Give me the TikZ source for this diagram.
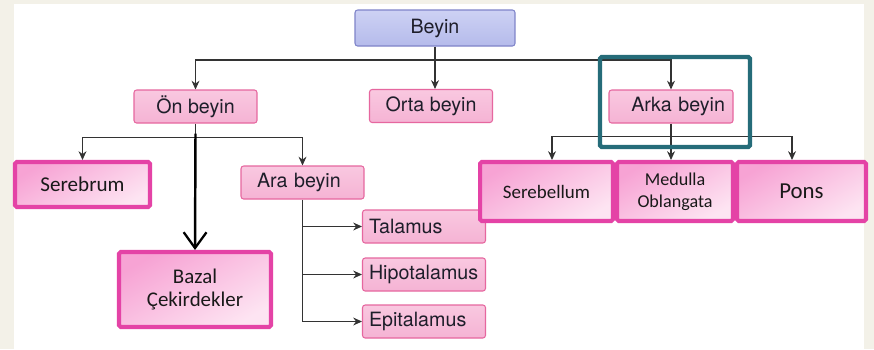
\documentclass[tikz,border=0pt]{standalone}
\usepackage{fontspec}
\usepackage{tikz}
\usetikzlibrary{arrows.meta}
\newfontfamily\heros{TeX Gyre Heros}
\newfontfamily\carl{Carlito}
\definecolor{cream}{HTML}{F3F1E8}
\definecolor{linegray}{HTML}{333333}
\definecolor{pinkline}{HTML}{E6679F}
\definecolor{pinktop}{HTML}{F9C8E0}
\definecolor{pinkbot}{HTML}{F5B3D4}
\definecolor{lavline}{HTML}{7F84C9}
\definecolor{lavtop}{HTML}{CDD1F4}
\definecolor{lavbot}{HTML}{B5BBEB}
\definecolor{magenta}{HTML}{E443A6}
\definecolor{magdark}{HTML}{F7A3D4}
\definecolor{maglight}{HTML}{FDE4F2}
\definecolor{teal}{HTML}{256C79}
\definecolor{ink}{HTML}{1E1E2A}
\tikzset{
  gbox/.style={draw=pinkline, line width=0.6pt, rounded corners=1.5pt,
    top color=pinktop, middle color=white, bottom color=pinkbot,
    minimum width=2.46cm, minimum height=0.66cm, inner sep=0pt,
    font=\heros\fontsize{11.2}{13}\selectfont, text=ink},
  leftbox/.style={gbox, text width=2.2cm, inner xsep=0.12cm, align=left},
  pbox/.style={draw=magenta, line width=2.3pt, rounded corners=1pt,
    top color=magdark, bottom color=maglight, shading angle=30,
    inner sep=0pt, align=center, text=black!90},
  arr/.style={draw=linegray, line width=0.6pt, -{Stealth[length=5pt,width=4.5pt]}},
  ln/.style={draw=linegray, line width=0.6pt},
}
\begin{document}
\begin{tikzpicture}[x=0.02cm, y=-0.02cm]
         \useasboundingbox (0,0) rectangle (874,349);
         \fill[cream] (0,0) rectangle (874,349);
         \fill[white] (14,4) rectangle (864,349);

         \node[gbox, minimum width=3.2cm, minimum height=0.72cm, draw=lavline,
           top color=lavtop, middle color=white!85!lavtop, bottom color=lavbot] at (435,28) (beyin) {Beyin};
         \node[gbox] at (195.5,106.5) (on) {Ön beyin};
         \node[gbox] at (431,106) (orta) {Orta beyin};
         \node[gbox, text width=2.16cm, inner xsep=0.16cm, align=right] at (671,106.5) (arka) {Arka beyin};

         \node[pbox, minimum width=2.7cm, minimum height=0.9cm,
           font=\carl\fontsize{12}{13}\selectfont] at (82.5,184.5) (serebrum) {Serebrum};
         \node[pbox, minimum width=3.04cm, minimum height=1.5cm,
           font=\carl\fontsize{11.9}{13.1}\selectfont] at (195,289.5) (bazal) {Bazal\\Çekirdekler};
         \node[gbox, text width=1.82cm, inner xsep=0.32cm, align=left] at (302.5,182.5) (ara) {Ara beyin};
         \node[leftbox] at (424,226.5) (talamus) {Talamus};
         \node[leftbox] at (424,274.5) (hipo) {Hipotalamus};
         \node[leftbox] at (424,321.5) (epi) {Epitalamus};

         \node[pbox, minimum width=2.66cm, minimum height=1.18cm,
           font=\carl\fontsize{10.8}{12}\selectfont] at (546.5,191.5) (serebellum) {Serebellum};
         \node[pbox, minimum width=2.32cm, minimum height=1.18cm,
           font=\carl\fontsize{10.3}{12.5}\selectfont] at (675,191.5) (medulla) {Medulla\\Oblangata};
         \node[pbox, minimum width=2.58cm, minimum height=1.18cm,
           font=\carl\fontsize{13}{14}\selectfont] at (801.5,191.5) (pons) {Pons};

         \draw[ln] (beyin.south) -- (beyin.south |- 0,60) coordinate (b1);
         \draw[arr] (b1) -| (on);
         \draw[arr] (b1) -| (arka);
         \draw[arr] (b1) -- (b1 |- orta.north);

         \draw[ln] (on.south) -- ++(0,14) coordinate (o1);
         \draw[arr] (o1) -| (serebrum);
         \draw[arr] (o1) -| (ara);
         \draw[line width=1.4pt, -{Straight Barb[length=9pt,width=13pt,line width=1.3pt]}]
           (on.south) ++(0,10) -- (bazal.north);

         \draw[arr] (ara.south) |- (epi.west);
         \draw[arr] (ara.south |- talamus) -- (talamus.west);
         \draw[arr] (ara.south |- hipo) -- (hipo.west);

         \draw[ln] (arka.south) -- ++(0,13) coordinate (a1);
         \draw[arr] (a1) -| ([xshift=0.11cm]serebellum.north);
         \draw[arr] (a1) -- (a1 |- medulla.north);
         \draw[arr] (a1) -| ([xshift=-0.19cm]pons.north);

         \draw[teal, line width=2.5pt, rounded corners=1pt] (600,57) rectangle (750,147);
      \end{tikzpicture}
\end{document}
